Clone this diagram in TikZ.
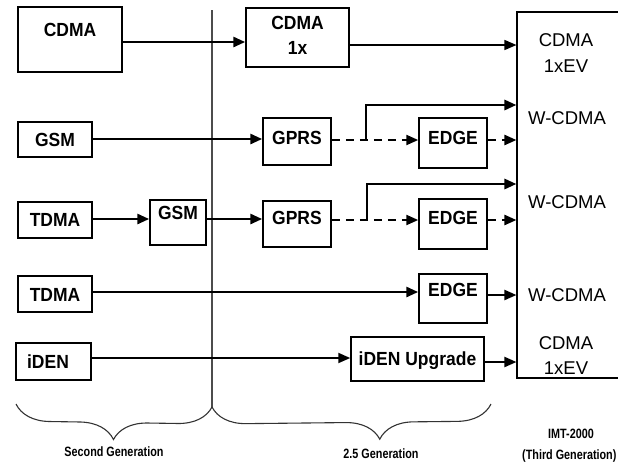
\documentclass[tikz,border=0pt]{standalone}
\usepackage{fontspec}
\setmainfont{Liberation Sans}
\usetikzlibrary{arrows.meta,decorations.pathreplacing}
\newcommand{\nrw}[1]{\scalebox{0.92}[1]{#1}}
\begin{document}
\begin{tikzpicture}[x=1pt,y=-1pt,
  box/.style={draw=black,line width=1.5pt,inner sep=0pt},
  lbl/.style={font=\fontsize{19}{21}\selectfont\bfseries,inner sep=0pt,align=center},
  biglbl/.style={font=\fontsize{18.5}{25}\selectfont,inner sep=0pt,align=center},
  small/.style={font=\fontsize{13.5}{15}\selectfont\bfseries,inner sep=0pt},
  tip/.style={-{Triangle[length=12pt,width=10pt]}},
  thickarr/.style={tip,line width=2.8pt},
  medarr/.style={tip,line width=2pt},
  thinarr/.style={tip,line width=1.4pt},
  dasharr/.style={tip,line width=2.3pt,dash pattern=on 8pt off 6pt},
  brc/.style={decorate,decoration={brace,mirror,amplitude=34pt},line width=1.1pt,draw=black!80}]
\useasboundingbox (0,0) rectangle (618,464);
\clip (0,0) rectangle (618,464);
% boxes
\node[box,minimum width=104pt,minimum height=65pt] (cdma) at (70,39.5) {};
\node[lbl] (cdmat) at (70,30) {\nrw{CDMA}};
\node[box,minimum width=74pt,minimum height=35pt] (gsma) at (55,139.5) {};
\node[lbl] (gsmat) at (55,140) {\nrw{GSM}};
\node[box,minimum width=74pt,minimum height=36pt] (tdmaa) at (55,220) {};
\node[lbl] (tdmaat) at (55,220) {\nrw{TDMA}};
\node[box,minimum width=56pt,minimum height=45pt] (gsmb) at (178,222.5) {};
\node[lbl] (gsmbt) at (178,213) {\nrw{GSM}};
\node[box,minimum width=74pt,minimum height=36pt] (tdmab) at (55,294) {};
\node[lbl] (tdmabt) at (55,295) {\nrw{TDMA}};
\node[box,minimum width=75pt,minimum height=37pt] (iden) at (53.5,361.5) {};
\node[lbl] (ident) at (48,362) {\nrw{iDEN}};
\node[box,minimum width=103pt,minimum height=59pt] (cdmax) at (297.5,37.5) {};
\node[lbl] (cdmaxt) at (297.5,23) {\nrw{CDMA}};
\node[lbl] (cdmaxu) at (297.5,48) {\nrw{1x}};
\node[box,minimum width=68pt,minimum height=47pt] (gprsa) at (297,141.5) {};
\node[lbl] (gprsat) at (297,138) {\nrw{GPRS}};
\node[box,minimum width=68pt,minimum height=50pt] (edgea) at (453,143) {};
\node[lbl] (edgeat) at (453,138) {\nrw{EDGE}};
\node[box,minimum width=68pt,minimum height=46pt] (gprsb) at (297,224) {};
\node[lbl] (gprsbt) at (297,218) {\nrw{GPRS}};
\node[box,minimum width=68pt,minimum height=50pt] (edgeb) at (453,224) {};
\node[lbl] (edgebt) at (453,218) {\nrw{EDGE}};
\node[box,minimum width=68pt,minimum height=49pt] (edgec) at (453,298.5) {};
\node[lbl] (edgect) at (453,290) {\nrw{EDGE}};
\node[box,minimum width=133pt,minimum height=44pt] (idenup) at (417.5,359) {};
\node[lbl] (idenupt) at (417.5,361) {\nrw{iDEN Upgrade}};
\node[draw=black,line width=1.1pt,inner sep=0pt,minimum width=110pt,minimum height=366pt] (big) at (572,195) {};
\node[biglbl] (b1) at (566,40) {CDMA};
\node[biglbl] (b2) at (566,66) {1xEV};
\node[biglbl] (b3) at (567,118) {W-CDMA};
\node[biglbl] (b4) at (567,202) {W-CDMA};
\node[biglbl] (b5) at (567,295) {W-CDMA};
\node[biglbl] (b6) at (566,343) {CDMA};
\node[biglbl] (b7) at (566,368) {1xEV};
% divider
\coordinate (vtop) at (212,10);
\coordinate (vbot) at (212,407);
\draw[line width=1.1pt,black!70] (vtop) -- (vbot);
% arrows
\draw[thickarr] (cdma.east|-0,42) -- (cdmax.west|-0,42);
\draw[thinarr] (cdmax.east|-0,45) -- (big.west|-0,45);
\draw[thickarr] (gsma.east|-0,139) -- (gprsa.west|-0,139);
\coordinate (ja) at (366,140);
\draw[dasharr] (gprsa.east|-0,140) -- (edgea.west|-0,140);
\draw[thickarr] (ja) -- (366,105) -- (big.west|-0,105);
\draw[dasharr] (edgea.east|-0,140) -- (big.west|-0,140);
\draw[thickarr] (tdmaa.east|-0,219) -- (gsmb.west|-0,219);
\draw[thickarr] (gsmb.east|-0,219) -- (gprsb.west|-0,219);
\coordinate (jb) at (367,220);
\draw[dasharr] (gprsb.east|-0,220) -- (edgeb.west|-0,220);
\draw[thickarr] (jb) -- (367,184) -- (big.west|-0,184);
\draw[dasharr] (edgeb.east|-0,220) -- (big.west|-0,220);
\draw[thickarr] (tdmab.east|-0,292) -- (edgec.west|-0,292);
\draw[medarr] (edgec.east|-0,295) -- (big.west|-0,295);
\draw[medarr] (iden.east|-0,358) -- (idenup.west|-0,358);
\draw[medarr] (idenup.east|-0,362) -- (big.west|-0,362);
% braces
\coordinate (ba) at (16,404);
\coordinate (bb) at (491,404);
\draw[brc] (ba) -- (vbot);
\draw[brc,decoration={brace,mirror,amplitude=34pt,aspect=0.6}] (vbot) -- (bb);
\node[small] (g2) at (114,452) {\scalebox{0.8}[1]{Second Generation}};
\node[small] (g25) at (381,454) {\scalebox{0.8}[1]{2.5 Generation}};
\node[small] (g3a) at (571,434) {\scalebox{0.8}[1]{IMT-2000}};
\node[small,anchor=west] (g3b) at (522,456) {\scalebox{0.8}[1]{(Third Generation)}};
\end{tikzpicture}
\end{document}
